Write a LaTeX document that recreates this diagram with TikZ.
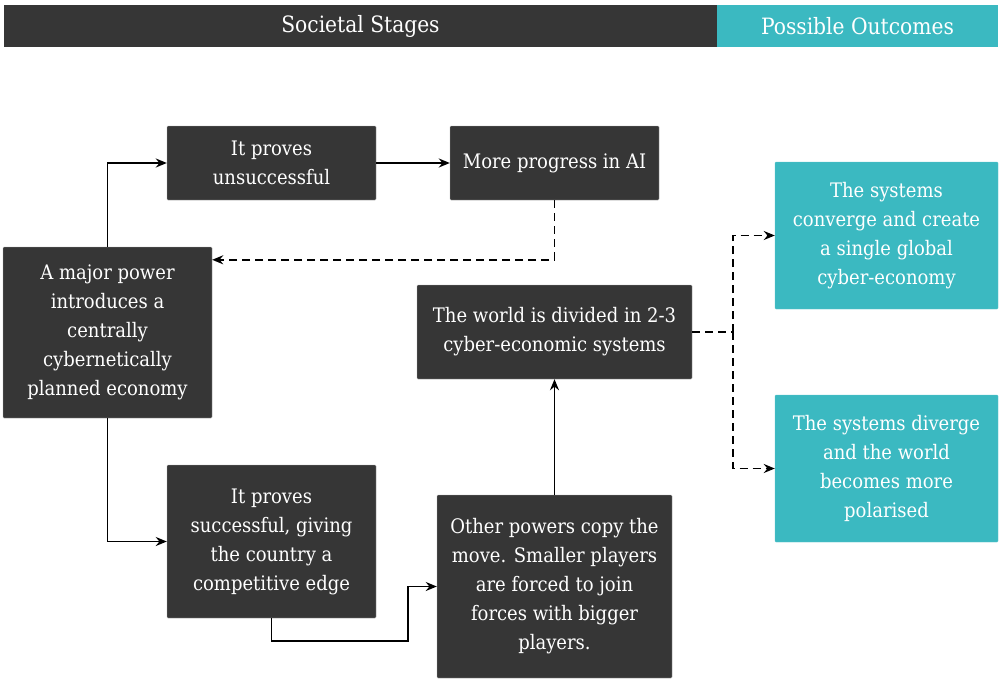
\documentclass[tikz,border=0pt]{standalone}
\usepackage{fontspec}
\setmainfont{DejaVu Serif Condensed}
\usepackage{tikz}
\usetikzlibrary{arrows.meta}
\definecolor{boxgray}{HTML}{363636}
\definecolor{teal}{HTML}{3BB9C1}
\tikzset{
    every node/.style={rectangle, fill=boxgray, draw=gray!70, line width=.4pt,
    	rounded corners=1pt, text=white, align=center, inner sep=0pt,
    	font=\fontsize{20}{29}\selectfont}
}
\tikzset{
    outcome/.style={fill=teal, draw=teal!80!white}
}
\tikzset{
    head/.style={draw=none, rounded corners=0pt, minimum height=42pt,
    	font=\fontsize{22.5}{26}\selectfont}
}
\tikzset{
	link/.style={line width=1.7pt, -{Stealth[length=11pt,width=9pt]}},
	dsh/.style={dash pattern=on 8pt off 5pt}
}

\begin{document}
\begin{tikzpicture}[x=1pt,y=-1pt]
  \useasboundingbox (0,0) rectangle (1005,691);
  \node (hs) [head, minimum width=713pt] at (360.5,26) {Societal Stages};
  \node (ho) [head, outcome, draw=none, minimum width=281pt] at (857.5,26) {Possible Outcomes};

  \node (major) [minimum width=209pt, minimum height=171pt] at (107.5,332.5)
    {A major power\\introduces a\\centrally\\cybernetically\\planned economy};
  \node (unsucc) [minimum width=209pt, minimum height=74pt] at (271.5,163)
    {It proves\\unsuccessful};
  \node (ai) [minimum width=209pt, minimum height=74pt] at (554.5,163)
    {More progress in AI};
  \node (succ) [minimum width=209pt, minimum height=153pt] at (271.5,541.5)
    {It proves\\successful, giving\\the country a\\competitive edge};
  \node (other) [minimum width=235pt, minimum height=183pt] at (554.5,586.5)
    {Other powers copy the\\move. Smaller players\\are forced to join\\forces with bigger\\players.};
  \node (world) [minimum width=275pt, minimum height=94pt] at (554.5,332)
    {The world is divided in 2-3\\cyber-economic systems};
  \node (conv) [outcome, minimum width=223pt, minimum height=147pt] at (886.5,235.5)
    {The systems\\converge and create\\a single global\\cyber-economy};
  \node (div) [outcome, minimum width=223pt, minimum height=147pt] at (886.5,468.5)
    {The systems diverge\\and the world\\becomes more\\polarised};

  \coordinate (bend) at (408,641);
  \coordinate (split) at (733,332);

  \draw [link] (major.north) |- (unsucc.west);
  \draw [link] (unsucc) -- (ai);
  \draw [link, dsh] (ai.south) |- ([yshift=-13pt]major.north east);
  \draw [link] (major.south) |- (succ.west);
  \draw [link] (succ.south) |- (bend) |- (other.west);
  \draw [link] (other) -- (world);
  \draw [line width=1.7pt, dsh] (world.east) -- (split);
  \draw [link, dsh] (split) |- (conv.west);
  \draw [link, dsh] (split) |- (div.west);
\end{tikzpicture}
\end{document}
